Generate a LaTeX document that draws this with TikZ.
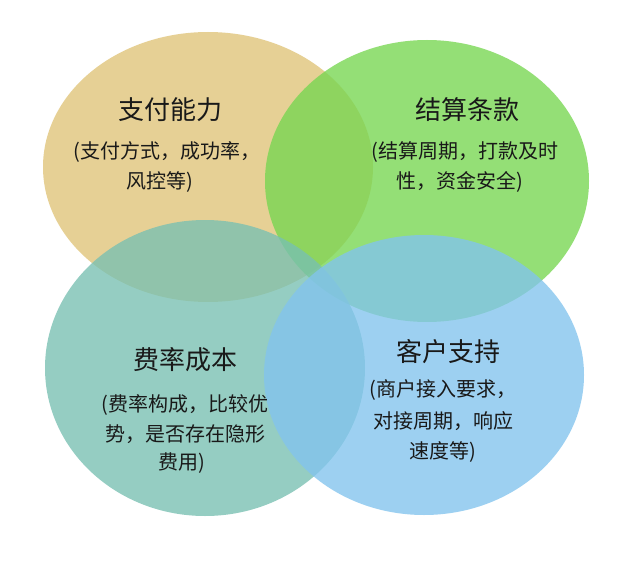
\documentclass[tikz,border=0pt]{standalone}
\usepackage{fontspec}
\setmainfont{Noto Sans CJK SC}
\begin{document}
\begin{tikzpicture}[x=1pt,y=-1pt,
  circ/.style={fill opacity=0.78,draw=none},
  ttl/.style={font=\fontsize{26}{28}\selectfont,text=black!90},
  txt/.style={font=\fontsize{20}{22}\selectfont,text=black!90,inner sep=0pt}]
\useasboundingbox[fill=white] (0,0) rectangle (640,567);
\fill[circ,fill={rgb,255:red,224;green,196;blue,120}] (208,167) ellipse [x radius=165,y radius=135];
\fill[circ,fill={rgb,255:red,118;green,214;blue,80}] (427,181) ellipse [x radius=162,y radius=141];
\fill[circ,fill={rgb,255:red,120;green,192;blue,178}] (205,368) ellipse [x radius=160,y radius=148];
\fill[circ,fill={rgb,255:red,130;green,196;blue,238}] (424,375) ellipse [x radius=160,y radius=140];
\node[ttl] (a) at (170,110) {支付能力};
\node[txt] (a1) at (167,152) {(支付方式，成功率，};
\node[txt] (a2) at (160,182) {风控等)};
\node[ttl] (b) at (467,110) {结算条款};
\node[txt] (b1) at (465,152) {(结算周期，打款及时};
\node[txt] (b2) at (460,182) {性，资金安全)};
\node[ttl] (c) at (185,360) {费率成本};
\node[txt] (c1) at (185,405) {(费率构成，比较优};
\node[txt] (c2) at (185,434) {势，是否存在隐形};
\node[txt] (c3) at (182,463) {费用)};
\node[ttl] (d) at (448,352) {客户支持};
\node[txt] (d1) at (443,390) {(商户接入要求，};
\node[txt] (d2) at (443,421) {对接周期，响应};
\node[txt] (d3) at (443,452) {速度等)};
\end{tikzpicture}
\end{document}
